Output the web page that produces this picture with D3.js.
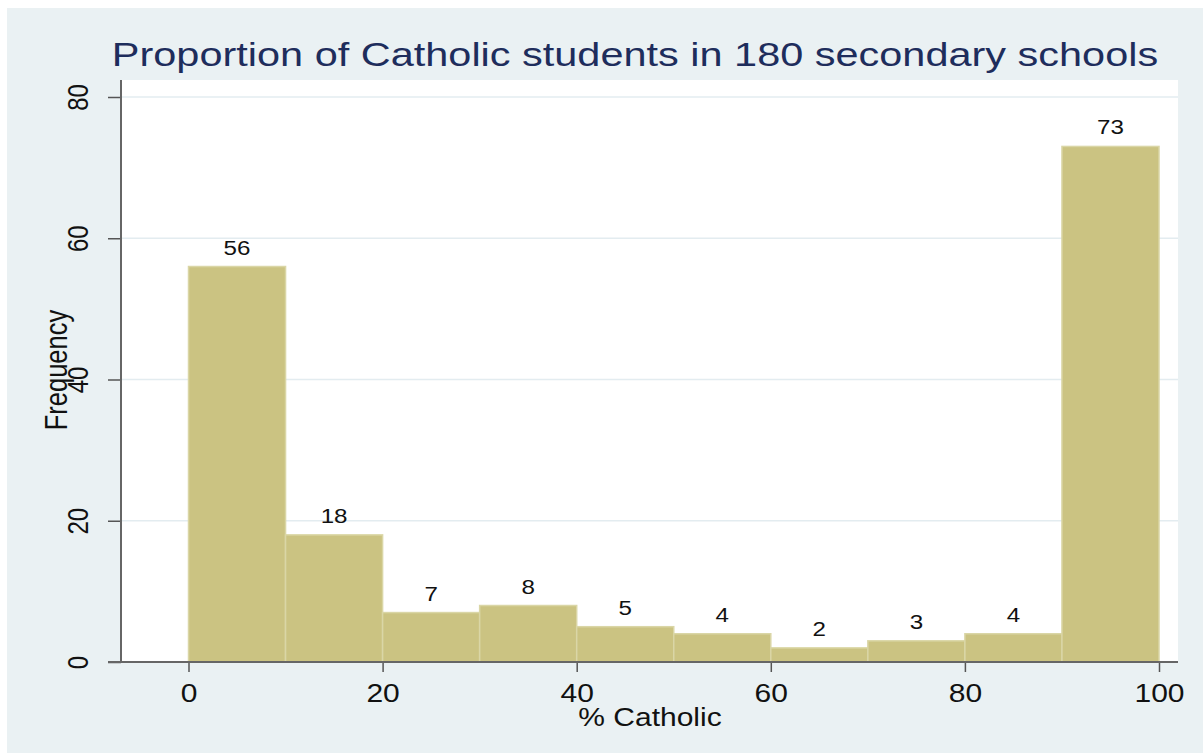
<html>
<head>
<meta http-equiv="content-type" content="text/html; charset=UTF8">
	<title>Histogram</title>
</head>
<style type="text/css">

body { font-family: "Liberation Sans", Arial; padding: 0; margin: 0; overflow: hidden; background: #fff; }

</style>
<body>

    <div id="chart"></div>

    <script type="text/javascript" src="https://cdnjs.cloudflare.com/ajax/libs/d3/7.8.5/d3.min.js"></script>
    <script type="text/javascript">

    // histogram bins (% Catholic) and counts
    var binStarts = [0, 10, 20, 30, 40, 50, 60, 70, 80, 90];
    var binWidth = 10;
    var counts = [56, 18, 7, 8, 5, 4, 2, 3, 4, 73];
    var xTicks = [0, 20, 40, 60, 80, 100];
    var yTicks = [0, 20, 40, 60, 80];

    (function(){
        var W = 1203, H = 755;
        var stretch = 1.2; // text in the original looks a bit wide

        var svg = d3.select("#chart").append("svg")
            .attr("width", W)
            .attr("height", H);

        // outer graph region
        svg.append("rect")
            .attr("x", 7).attr("y", 8)
            .attr("width", W - 7).attr("height", H - 10)
            .attr("fill", "#eaf1f3");

        var plot = { left: 121, right: 1178, top: 80, bottom: 662 };

        svg.append("rect")
            .attr("x", plot.left).attr("y", plot.top)
            .attr("width", plot.right - plot.left)
            .attr("height", plot.bottom - plot.top)
            .attr("fill", "#fff");

        var x = d3.scaleLinear().domain([0, 100]).range([188.5, 1159]);
        var y = d3.scaleLinear().domain([0, 80]).range([662, 97]);

        // gridlines
        svg.append("g").selectAll("line")
            .data(yTicks.filter(function(d){ return d > 0; }))
            .enter().append("line")
            .attr("x1", plot.left).attr("x2", plot.right)
            .attr("y1", function(d){ return y(d); })
            .attr("y2", function(d){ return y(d); })
            .attr("stroke", "#e3ecf0")
            .attr("stroke-width", 1.5);

        // bars
        var bars = svg.append("g").selectAll("g")
            .data(binStarts.map(function(b, i){ return { x0: b, x1: b + binWidth, n: counts[i] }; }))
            .enter().append("g");

        bars.append("rect")
            .attr("x", function(d){ return x(d.x0); })
            .attr("y", function(d){ return y(d.n); })
            .attr("width", function(d){ return x(d.x1) - x(d.x0); })
            .attr("height", function(d){ return y(0) - y(d.n); })
            .attr("fill", "#cbc382")
            .attr("stroke", "#dad6a6")
            .attr("stroke-width", 1.5);

        bars.append("text")
            .attr("transform", function(d){
                return "translate(" + x((d.x0 + d.x1) / 2) + "," + (y(d.n) - 12) + ") scale(1.15,1)";
            })
            .attr("text-anchor", "middle")
            .style("font-size", "21px")
            .attr("fill", "#111")
            .text(function(d){ return d.n; });

        // y axis
        var yAxis = d3.axisLeft(y).tickValues(yTicks).tickSize(13).tickSizeOuter(0);
        var yg = svg.append("g")
            .attr("transform", "translate(" + plot.left + ",0)")
            .call(yAxis);
        yg.select(".domain").remove();
        yg.selectAll(".tick line").attr("stroke", "#555").attr("stroke-width", 1.5);
        yg.selectAll(".tick text")
            .attr("x", null).attr("dy", null)
            .attr("transform", "translate(-33,0) scale(" + stretch + ",1) rotate(-90)")
            .attr("text-anchor", "middle")
            .style("font-size", "24px")
            .style("font-family", "'Liberation Sans', Arial")
            .attr("fill", "#111");
        svg.append("line")
            .attr("x1", plot.left).attr("x2", plot.left)
            .attr("y1", plot.top).attr("y2", plot.bottom)
            .attr("stroke", "#666").attr("stroke-width", 2);

        // x axis
        var xAxis = d3.axisBottom(x).tickValues(xTicks).tickSize(10).tickSizeOuter(0);
        var xg = svg.append("g")
            .attr("transform", "translate(0," + plot.bottom + ")")
            .call(xAxis);
        xg.select(".domain").remove();
        xg.selectAll(".tick line").attr("stroke", "#555").attr("stroke-width", 1.5);
        xg.selectAll(".tick text")
            .attr("y", null).attr("dy", null)
            .attr("transform", "translate(0,40) scale(" + stretch + ",1)")
            .style("font-size", "25px")
            .style("font-family", "'Liberation Sans', Arial")
            .attr("fill", "#111");
        svg.append("line")
            .attr("x1", plot.left - 13).attr("x2", plot.right)
            .attr("y1", plot.bottom).attr("y2", plot.bottom)
            .attr("stroke", "#666").attr("stroke-width", 2);

        // axis titles
        svg.append("text")
            .attr("transform", "translate(650,726) scale(" + stretch + ",1)")
            .attr("text-anchor", "middle")
            .style("font-size", "25px")
            .attr("fill", "#111")
            .text("% Catholic");

        svg.append("text")
            .attr("transform", "translate(67,370) scale(" + stretch + ",1) rotate(-90)")
            .attr("text-anchor", "middle")
            .style("font-size", "25.5px")
            .attr("fill", "#111")
            .text("Frequency");

        // title
        svg.append("text")
            .attr("transform", "translate(635,66) scale(1.22,1)")
            .attr("text-anchor", "middle")
            .style("font-size", "34px")
            .attr("fill", "#1e2d5c")
            .text("Proportion of Catholic students in 180 secondary schools");

    })();

    </script>
</body>
</html>
